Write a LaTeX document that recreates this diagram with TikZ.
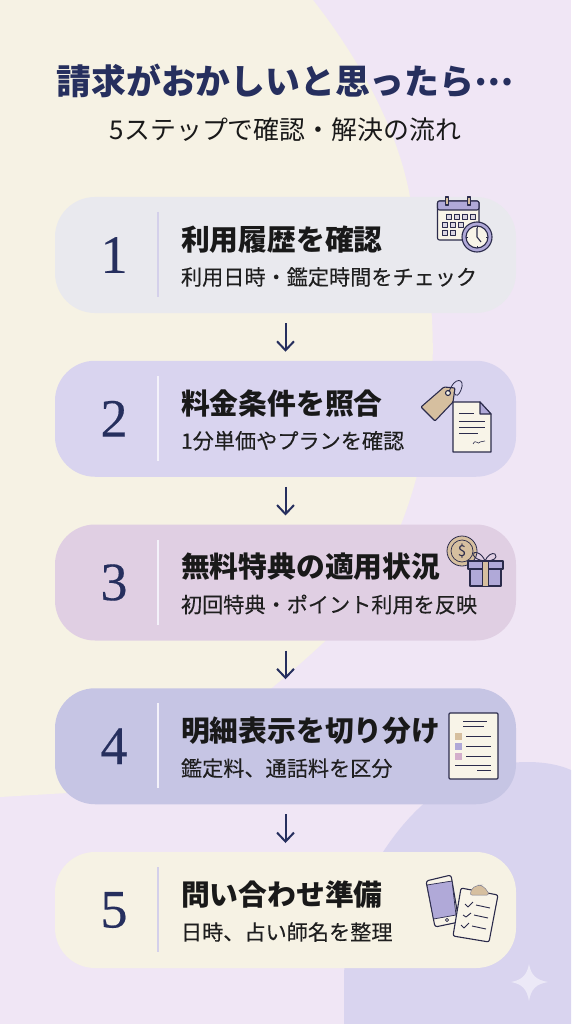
\documentclass[tikz,border=0pt]{standalone}
\usepackage{fontspec}
\setmainfont{Noto Sans CJK JP}
\newfontfamily\numfont[FakeBold=0.35]{Liberation Serif}
\newfontfamily\subfont[FakeBold=0.12]{Noto Sans CJK JP}
\usetikzlibrary{arrows.meta, positioning}

\definecolor{navy}{HTML}{262F5E}
\definecolor{ink}{HTML}{2B2B4B}
\definecolor{cream}{HTML}{F6F2E4}
\definecolor{lilac}{HTML}{F0E6F5}
\definecolor{wisteria}{HTML}{D9D4EF}
\definecolor{tan}{HTML}{D6BF9F}
\definecolor{violet}{HTML}{B0A9D8}
\definecolor{mauve}{HTML}{D3AECB}
\definecolor{paper}{HTML}{F8F4E8}
\definecolor{mist}{HTML}{E9E9EE}
\definecolor{plum}{HTML}{E0CFE3}
\definecolor{periwinkle}{HTML}{C6C5E4}

\begin{document}
\begin{tikzpicture}[
    x=1pt, y=-1pt,
    >={Straight Barb[length=9pt,width=17pt]},
    node distance=47.75pt and 8pt,
    card/.style={rectangle, rounded corners=40pt, minimum width=461pt, minimum height=116pt, inner sep=0pt, outer sep=0pt},
    num/.style={font=\numfont\fontsize{54}{54}\selectfont, text=navy, minimum width=40pt, inner sep=0pt, outer sep=0pt},
    head/.style={font=\bfseries\fontsize{28.8}{30}\selectfont, text=black!90, inner sep=0pt, outer sep=0pt},
    sub/.style={font=\subfont\fontsize{21.15}{24}\selectfont, text=black!88, inner sep=0pt, outer sep=0pt},
    divider/.style={draw=#1, line width=1.6pt},
    line/.style={->, draw=navy, line width=2pt, shorten <=10pt, shorten >=9pt},
    icon/.style={draw=ink, line width=1.1pt, line join=round}
]
\useasboundingbox (0,0) rectangle (571,1024);

% background
\fill[lilac] (0,0) rectangle (571,1024);
\fill[cream] (0,0) -- (313,0) .. controls (360,60) and (398,130) .. (410,197) .. controls (422,240) and (430,280) .. (432,320) .. controls (438,430) and (410,560) .. (323,643) .. controls (240,720) and (150,785) .. (67,793) -- (0,797) -- cycle;
\fill[wisteria] (344,1024) -- (344,975) .. controls (346,925) and (362,885) .. (383,852) .. controls (420,795) and (470,762) .. (527,762) .. controls (545,762) and (560,765) .. (571,770) -- (571,1024) -- cycle;
\fill[white, opacity=.5] (529,964) .. controls (531,975) and (536,980) .. (548,982) .. controls (536,984) and (531,989) .. (529,1001) .. controls (527,989) and (522,984) .. (511,982) .. controls (522,980) and (527,975) .. (529,964) -- cycle;

% title
\node[font=\bfseries\fontsize{34.8}{38}\selectfont, text=navy, inner sep=0pt] (title) at (285,81) {請求がおかしいと思ったら\raisebox{.26em}{…}};
\node[font=\fontsize{25.9}{28}\selectfont, text=black!90, inner sep=0pt] (subtitle) at (285.5,130) {5ステップで確認・解決の流れ};

% cards
\node[card, fill=mist] (card1) at (285.5,255) {};
\node[card, fill=wisteria, below=of card1] (card2) {};
\node[card, fill=plum, below=of card2] (card3) {};
\node[card, fill=periwinkle, below=of card3] (card4) {};
\node[card, fill=cream, below=of card4] (card5) {};

\draw[line] (card1) -- (card2);
\draw[line] (card2) -- (card3);
\draw[line] (card3) -- (card4);
\draw[line] (card4) -- (card5);

% card contents
\node[num, right=39pt of card1.west] (num1) {1};
\node[num, right=39pt of card2.west] (num2) {2};
\node[num, right=39pt of card3.west] (num3) {3};
\node[num, right=39pt of card4.west] (num4) {4};
\node[num, right=39pt of card5.west] (num5) {5};

\draw[divider=violet!55!white] (158,212) -- (158,297);
\draw[divider=white!70!wisteria] (158,376) -- (158,461);
\draw[divider=white!70!wisteria] (158,540) -- (158,625);
\draw[divider=white!70!wisteria] (158,703) -- (158,788);
\draw[divider=violet!55!white] (158,867) -- (158,952);

\node[head, right=126pt of card1.west, yshift=15.5pt] (head1) {利用履歴を確認};
\node[sub, right=126pt of card1.west, yshift=-22pt] (sub1) {利用日時・鑑定時間をチェック};
\node[head, right=126pt of card2.west, yshift=15.5pt] (head2) {料金条件を照合};
\node[sub, right=126pt of card2.west, yshift=-22pt] (sub2) {1分単価やプランを確認};
\node[head, right=126pt of card3.west, yshift=15.5pt] (head3) {無料特典の適用状況};
\node[sub, right=126pt of card3.west, yshift=-22pt] (sub3) {初回特典・ポイント利用を反映};
\node[head, right=126pt of card4.west, yshift=15.5pt] (head4) {明細表示を切り分け};
\node[sub, right=126pt of card4.west, yshift=-22pt] (sub4) {鑑定料、通話料を区分};
\node[head, right=126pt of card5.west, yshift=15.5pt] (head5) {問い合わせ準備};
\node[sub, right=126pt of card5.west, yshift=-22pt] (sub5) {日時、占い師名を整理};

% calendar
\filldraw[icon, fill=paper, rounded corners=2pt] (437.5,201) rectangle (479,240);
\filldraw[icon, fill=violet, rounded corners=2pt] (437.5,201) rectangle (479,210);
\draw[icon, fill=tan] (445.5,197) rectangle (448.5,205);
\draw[icon, fill=tan] (467.5,197) rectangle (470.5,205);
\draw[icon, fill=violet!40!paper, line width=.8pt] (446,214) rectangle (451,219) (454,214) rectangle (459,219) (462,214) rectangle (467,219) (470,214) rectangle (475,219);
\draw[icon, fill=violet!40!paper, line width=.8pt] (442,222) rectangle (447,227) (450,222) rectangle (455,227) (458,222) rectangle (463,227);
\draw[icon, fill=violet!40!paper, line width=.8pt] (442,230) rectangle (447,235) (450,230) rectangle (455,235);
\filldraw[icon, fill=violet] (477,237) circle (15);
\filldraw[icon, fill=paper] (477,237) circle (11);
\draw[icon] (477,228) -- (477,237) -- (481,242);
\draw[icon, line width=.6pt] (477,226) -- (477,228) (477,246) -- (477,248) (466,237) -- (468,237) (486,237) -- (488,237);

% tag and sheet
\filldraw[icon, fill=tan, rounded corners=1pt] (421,407) -- (444,387) -- (455,388) -- (453,402) -- (435,421) -- cycle;
\filldraw[icon, fill=paper] (448,393) circle (2.5);
\draw[icon, line width=.8pt] (449,392) .. controls (454,376) and (466,378) .. (461,390) .. controls (459,395) and (456,398) .. (454,392);
\filldraw[icon, fill=paper] (453,402) -- (480,402) -- (491,414) -- (491,452) -- (453,452) -- cycle;
\filldraw[icon, fill=violet] (480,402) -- (491,414) -- (480,414) -- cycle;
\draw[icon, line width=.9pt] (459,413) -- (474,413) (459,421) -- (485,421) (459,427) -- (485,427) (459,433) -- (478,433);
\draw[icon, line width=.6pt] (473,444) .. controls (476,438) and (478,446) .. (480,442) .. controls (481,440) and (483,443) .. (485,441);

% coin and gift
\filldraw[draw=ink, line width=.8pt, fill=tan] (462,551) circle (15);
\draw[ink, line width=.7pt] (462,551) circle (11);
\node[font=\fontsize{15}{16}\selectfont, text=ink, inner sep=0pt] (coin) at (462,551) {\$};
\draw[icon, line width=.9pt] (485,561) .. controls (472,560) and (470,550) .. (478,553) .. controls (481,554) and (484,558) .. (485,561) .. controls (487,556) and (492,552) .. (495,554) .. controls (498,558) and (494,561) .. (485,561);
\filldraw[icon, fill=violet] (470,569) rectangle (501,586);
\filldraw[icon, fill=violet] (468,561) rectangle (503,569);
\filldraw[icon, fill=tan, line width=.6pt] (482,561) rectangle (488,586);

% statement sheet
\filldraw[icon, fill=paper, rounded corners=1pt] (449,713) rectangle (498,779);
\draw[icon, line width=.9pt] (463,721) -- (487,721) (463,726) -- (484,726);
\fill[tan] (455,733) rectangle (462,740);
\fill[violet] (455,743) rectangle (462,750);
\fill[mauve] (455,753) rectangle (462,760);
\draw[icon, line width=.9pt] (466,736) -- (491,736) (466,746) -- (491,746) (466,756) -- (491,756) (455,765) -- (491,765) (477,770) -- (491,770);

% phone and clipboard
\filldraw[icon, fill=paper, rounded corners=2.5pt] (426,881) -- (451,875) -- (459,922) -- (435,927) -- cycle;
\filldraw[draw=ink, line width=.7pt, fill=violet] (427,885) -- (452,881) -- (456,915) -- (433.5,919) -- cycle;
\draw[icon, line width=.7pt] (447,920) circle (1.6);
\filldraw[icon, fill=paper, rounded corners=2pt] (461,888) -- (498,895) -- (489,942) -- (453,936) -- cycle;
\filldraw[draw=ink!60, line width=.5pt, fill=tan, rounded corners=2pt] (479,885) -- (481,885) -- (487,890) -- (489,895) -- (470,895) -- (472,888) -- cycle;
\draw[icon, line width=.9pt] (465,904) -- (468,907) -- (473,902) (476,905) -- (490,908);
\draw[icon, line width=.9pt] (463,915) -- (466,917) -- (471,913) (474,915) -- (488,918);
\draw[icon, line width=.9pt] (461,925) -- (464,928) -- (469,923) (472,926) -- (486,929);
\end{tikzpicture}
\end{document}
